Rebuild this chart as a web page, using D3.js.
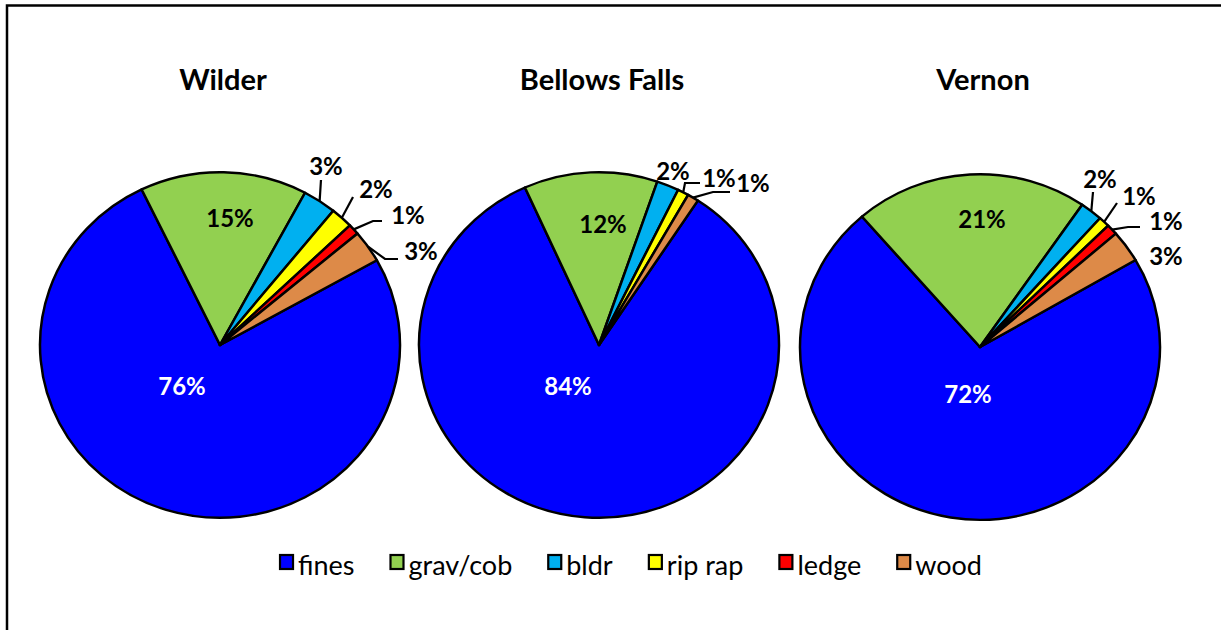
<!DOCTYPE html>
<html>
<head>
<meta charset="utf-8">
<script src="https://cdn.jsdelivr.net/npm/d3@7"></script>
<style>
  html, body { margin: 0; padding: 0; background: #fff; }
  svg { display: block; }
  text { font-family: Lato, "Open Sans", sans-serif; }
</style>
</head>
<body>
<svg id="chart" width="1230" height="630"></svg>
<script>
// Substrate composition by site (percent of area)
const sites = ["Wilder", "Bellows Falls", "Vernon"];
const categories = ["fines", "grav/cob", "bldr", "rip rap", "ledge", "wood"];
const wilderPct = [76, 15, 3, 2, 1, 3];
const bellowsPct = [84, 12, 2, 1, 0, 1];
const vernonPct = [72, 21, 2, 1, 1, 3];
const colors = ["#0000FF", "#92D050", "#00B0F0", "#FFFF00", "#FF0000", "#DD8A48"];

// Layout: pie centres, first-slice angle (degrees), and label placement
const pieLayout = [
  { cx: 220, cy: 345, start: 60.6,
    labels: [
      { t: [-38, 40] }, { t: [10, -128] },
      { t: [106, -180], path: [[101, -165]] },
      { t: [156, -157], path: [[133, -148]] },
      { t: [188, -131], path: [[153, -124], [162, -124]] },
      { t: [201, -95], path: [[165, -86], [178, -86]] }
    ] },
  { cx: 599, cy: 345, start: 33.3,
    labels: [
      { t: [-31, 40] }, { t: [4, -122] },
      { t: [74, -175] },
      { t: [120, -168], path: [[86, -162], [101, -162]] },
      null,
      { t: [154, -163], path: [[114, -153], [131, -153]] }
    ] },
  { cx: 980, cy: 347, start: 59.8,
    labels: [
      { t: [-12, 46] }, { t: [2, -129] },
      { t: [120, -169], path: [[113, -155]] },
      { t: [159, -152], path: [[137, -144]] },
      { t: [186, -127], path: [[148, -120], [160, -120]] },
      { t: [186, -92] }
    ] }
];
const seriesBySite = [wilderPct, bellowsPct, vernonPct];

const R = 180, SY = 0.96;
const svg = d3.select("#chart");

// Outer frame (top and left edges)
svg.append("path")
  .attr("d", "M7,632 V5.5 H1221")
  .attr("fill", "none").attr("stroke", "#000").attr("stroke-width", 2.5);

const color = d3.scaleOrdinal().domain(categories).range(colors);
const arc = d3.arc().innerRadius(0).outerRadius(R);
const edge = d3.arc().innerRadius(R).outerRadius(R);

sites.forEach((site, i) => {
  const L = pieLayout[i];
  const vals = seriesBySite[i];
  const a0 = L.start * Math.PI / 180;
  const pie = d3.pie().sort(null).value(d => d.v)
    .startAngle(a0).endAngle(a0 + 2 * Math.PI);
  const arcs = pie(categories.map((c, k) => ({ c, v: vals[k] })));

  const g = svg.append("g").attr("transform", `translate(${L.cx},${L.cy})`);

  // slices (slightly flattened vertically)
  g.append("g").attr("transform", `scale(1,${SY})`)
    .selectAll("path").data(arcs.filter(d => d.data.v > 0)).join("path")
    .attr("d", arc)
    .attr("fill", d => color(d.data.c))
    .attr("stroke", "#000").attr("stroke-width", 2.5)
    .attr("stroke-linejoin", "round");

  // leader lines
  arcs.forEach((d, k) => {
    const lab = L.labels[k];
    if (!lab || !lab.path || d.data.v <= 0) return;
    const p = edge.centroid(d);
    const pts = [[p[0], p[1] * SY]].concat(lab.path);
    g.append("path")
      .attr("d", d3.line()(pts))
      .attr("fill", "none").attr("stroke", "#000").attr("stroke-width", 2.2);
  });

  // value labels
  arcs.forEach((d, k) => {
    const lab = L.labels[k];
    if (!lab || d.data.v <= 0) return;
    g.append("text")
      .attr("x", lab.t[0]).attr("y", lab.t[1])
      .attr("text-anchor", "middle").attr("dominant-baseline", "central")
      .attr("font-size", 24).attr("font-weight", 700)
      .attr("fill", k === 0 ? "#fff" : "#000")
      .text(d3.format("d")(d.data.v) + "%");
  });

  // site title
  svg.append("text")
    .attr("x", L.cx + 3).attr("y", 90)
    .attr("text-anchor", "middle")
    .attr("font-size", 29).attr("font-weight", 700)
    .text(site);
});

// Legend, centred below the pies
const legendGap = 36;
const legend = svg.append("g");
const items = legend.selectAll("g").data(categories).join("g");
items.append("rect")
  .attr("width", 13).attr("height", 14).attr("y", -20)
  .attr("fill", d => color(d)).attr("stroke", "#000").attr("stroke-width", 2.2);
items.append("text")
  .attr("x", 18).attr("y", 0)
  .attr("font-size", 27)
  .text(d => d);
let x = 0;
items.each(function() {
  d3.select(this).attr("transform", `translate(${x},0)`);
  x += this.getBBox().width + legendGap;
});
const total = x - legendGap;
legend.attr("transform", `translate(${631 - total / 2},575)`);
</script>
</body>
</html>
